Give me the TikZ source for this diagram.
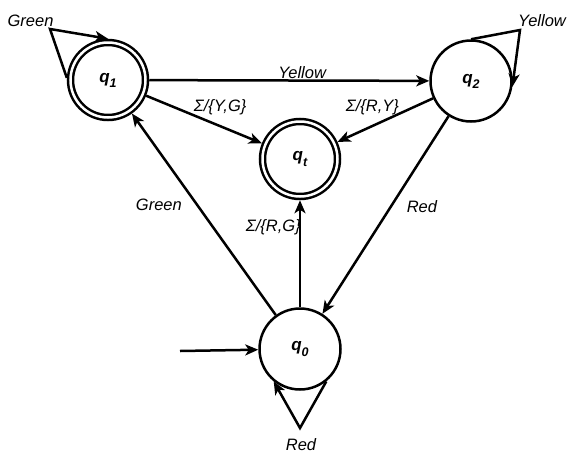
\documentclass[tikz,border=0pt]{standalone}
\usepackage{fontspec}
\setmainfont{Liberation Sans}
\usetikzlibrary{arrows.meta}
\newcommand{\stsub}[1]{\raisebox{-0.3em}{\fontsize{12.5}{14}\selectfont #1}}

\begin{document}
\begin{tikzpicture}[x=1pt,y=-1pt,
  every node/.style={font=\fontsize{16.5}{19}\selectfont\itshape},
  state/.style={circle,draw,line width=2.5pt,minimum size=81pt,inner sep=0pt,
    font=\fontsize{17}{20}\selectfont\bfseries\itshape},
  accepting/.style={state,double,double distance=2.5pt,minimum size=75pt,outer sep=3.75pt},
  edge/.style={line width=2.5pt,-{Stealth[length=13pt,width=11pt,inset=3.5pt]}},
  lbl/.style={inner sep=0pt}]
\useasboundingbox (0,0) rectangle (581,461);

% States
\node[accepting] (q1) at (108,80) {q\stsub{1}};
\node[state] (q2) at (471,81) {q\stsub{2}};
\node[accepting] (qt) at (300,159) {q\stsub{t}};
\node[state] (q0) at (300,349) {q\stsub{0}};

% Loop corners and start
\coordinate (g1) at (50,29);
\coordinate (y2) at (520,30);
\coordinate (r0) at (300,428);
\coordinate (start) at (180,351);

% Self loops
\draw[edge] (q1.177) -- (g1) -- (q1.90);
\draw[edge] (q2.90) -- (y2) -- (q2.-8);
\draw[edge] (q0.-51) -- (r0) -- (q0.-129);
\node[lbl] (lg1) at (30.5,21) {Green};
\node[lbl] (ly2) at (542,21) {Yellow};
\node[lbl] (lr0) at (301,445) {Red};

% Transitions
\draw[edge] (start) -- (q0);
\draw[edge] (q1) -- node[lbl,pos=0.546,above=1pt] {Yellow} (q2);
\draw[edge] (q1) -- node[lbl,pos=0.64,above=10pt] {Σ/\{Y,G\}} (qt);
\draw[edge] (q2) -- node[lbl,pos=0.634,above=9.5pt] {Σ/\{R,Y\}} (qt);
\draw[edge] (q2) -- node[lbl,pos=0.46,right=15pt] {Red} (q0);
\draw[edge] (q0) -- node[lbl,pos=0.547,left=14pt] {Green} (q1);
\draw[edge] (q0) -- node[lbl,pos=0.75,left=-2pt] {Σ/\{R,G\}} (qt);
\end{tikzpicture}
\end{document}
